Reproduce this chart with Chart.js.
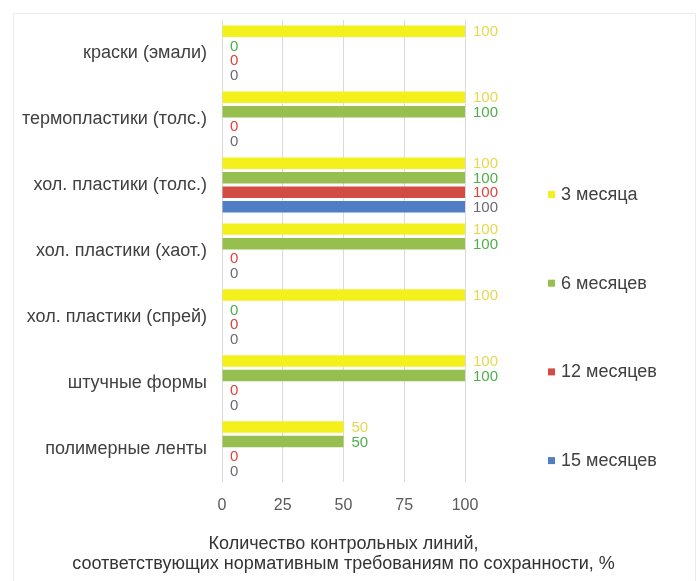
<!DOCTYPE html>
<html>
<head>
<meta charset="utf-8">
<title>Сохранность разметки</title>
<script src="https://cdn.jsdelivr.net/npm/chart.js@4.4.1/dist/chart.umd.min.js"></script>
<style>
  html, body { margin: 0; padding: 0; background: #fff; }
  #frame { position: absolute; left: 13px; top: 13px; width: 683px; height: 620px; border: 1px solid #ebebeb; box-sizing: border-box; }
  #wrap { position: absolute; left: 14px; top: 14px; width: 680px; height: 567px; }
</style>
</head>
<body>
<div id="frame"></div>
<div id="wrap"><canvas id="chart" width="680" height="567"></canvas></div>
<script>
// categories, top to bottom
const categories = [
  'краски (эмали)',
  'термопластики (толс.)',
  'хол. пластики (толс.)',
  'хол. пластики (хаот.)',
  'хол. пластики (спрей)',
  'штучные формы',
  'полимерные ленты'
];

const seriesNames = ['3 месяца', '6 месяцев', '12 месяцев', '15 месяцев'];

const months3  = [100, 100, 100, 100, 100, 100, 50];
const months6  = [0, 100, 100, 100, 0, 100, 50];
const months12 = [0, 0, 100, 0, 0, 0, 0];
const months15 = [0, 0, 100, 0, 0, 0, 0];

const xTicks = [0, 25, 50, 75, 100];

const barColors   = ['#f4f01c', '#96bf4f', '#d14c44', '#4f7ec4'];
const labelColors = ['#e6d84e', '#4fae4a', '#e2413b', '#6a6a72'];

const xTitle = [
  'Количество контрольных линий,',
  'соответствующих нормативным требованиям по сохранности, %'
];

const FONT = '"Liberation Sans", Arial, sans-serif';

// value labels at the end of each bar
const valueLabels = {
  id: 'valueLabels',
  afterDatasetsDraw(chart) {
    const ctx = chart.ctx;
    ctx.save();
    ctx.font = '15px ' + FONT;
    ctx.textAlign = 'left';
    ctx.textBaseline = 'middle';
    chart.data.datasets.forEach((ds, i) => {
      ctx.fillStyle = labelColors[i];
      chart.getDatasetMeta(i).data.forEach((bar, j) => {
        ctx.fillText(ds.data[j], bar.x + 8, bar.y + 1);
      });
    });
    ctx.restore();
  }
};

// axis title (wider than the plot, so drawn without maxWidth) + legend on the right
const sideText = {
  id: 'sideText',
  afterDraw(chart) {
    const ctx = chart.ctx;
    const area = chart.chartArea;
    ctx.save();
    ctx.textBaseline = 'middle';

    ctx.font = '18px ' + FONT;
    ctx.fillStyle = '#333';
    ctx.textAlign = 'center';
    const cx = (area.left + area.right) / 2;
    xTitle.forEach((line, k) => {
      ctx.fillText(line, cx, area.bottom + 62 + k * 20);
    });

    // legend, items spread down the right side
    ctx.textAlign = 'left';
    const lx = area.right + 83;
    chart.data.datasets.forEach((ds, i) => {
      const cy = area.top + 175 + i * 88.7;
      ctx.fillStyle = ds.backgroundColor;
      ctx.fillRect(lx, cy - 4, 7, 7);
      ctx.fillStyle = '#404040';
      ctx.fillText(ds.label, lx + 13, cy);
    });
    ctx.restore();
  }
};

const allSeries = [months3, months6, months12, months15];

new Chart(document.getElementById('chart'), {
  type: 'bar',
  data: {
    labels: categories,
    datasets: allSeries.map((d, i) => ({
      label: seriesNames[i],
      data: d,
      backgroundColor: barColors[i],
      borderWidth: 0,
      categoryPercentage: 0.88,
      barPercentage: 0.79
    }))
  },
  options: {
    indexAxis: 'y',
    responsive: false,
    animation: false,
    layout: { padding: { top: 6, left: 0, right: 229, bottom: 52 } },
    plugins: {
      legend: { display: false },
      tooltip: { enabled: false }
    },
    scales: {
      x: {
        min: 0,
        max: 100,
        afterBuildTicks: s => { s.ticks = xTicks.map(v => ({ value: v })); },
        grid: { color: '#dadada', drawTicks: false },
        border: { display: false },
        ticks: {
          padding: 14,
          color: '#595959',
          font: { family: FONT, size: 16 }
        }
      },
      y: {
        afterFit: s => { s.width = 208; s.paddingTop = 0; s.paddingBottom = 0; },
        grid: { display: false, drawTicks: false },
        border: { display: false },
        ticks: {
          padding: 15,
          color: '#404040',
          font: { family: FONT, size: 18 }
        }
      }
    }
  },
  plugins: [valueLabels, sideText]
});
</script>
</body>
</html>
